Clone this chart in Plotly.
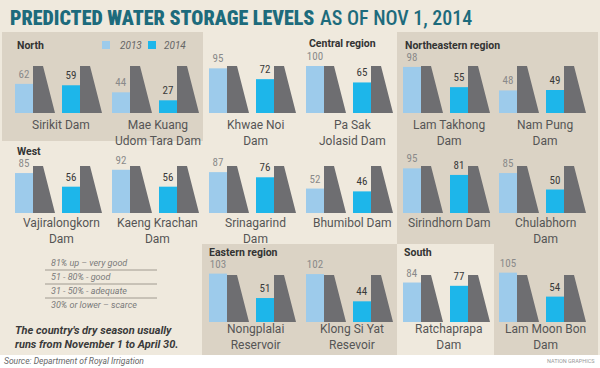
import plotly.graph_objects as go

W, H = 600, 368

# ---------------- data ----------------
row1_dams = ["Sirikit Dam", "Mae Kuang<br>Udom Tara Dam", "Khwae Noi<br>Dam",
             "Pa Sak<br>Jolasid Dam", "Lam Takhong<br>Dam", "Nam Pung<br>Dam"]
row1_2013 = [62, 44, 95, 100, 98, 48]
row1_2014 = [59, 27, 72, 65, 55, 49]

row2_dams = ["Vajiralongkorn<br>Dam", "Kaeng Krachan<br>Dam", "Srinagarind<br>Dam",
             "Bhumibol Dam", "Sirindhorn Dam", "Chulabhorn<br>Dam"]
row2_2013 = [85, 92, 87, 52, 95, 85]
row2_2014 = [56, 56, 76, 46, 81, 50]

row3_dams = ["Nongplalai<br>Reservoir", "Klong Si Yat<br>Resevoir",
             "Ratchaprapa<br>Dam", "Lam Moon Bon<br>Dam"]
row3_2013 = [103, 102, 84, 105]
row3_2014 = [51, 44, 77, 54]

series_names = ["2013", "2014"]
region_labels = ["North", "Central region", "Northeastern region",
                 "West", "Eastern region", "South"]
rating_scale = ["81% up – very good", "51 - 80% - good",
                "31 - 50% - adequate", "30% or lower – scarce"]
note_lines = ["The country's dry season usually", "runs from November 1 to April 30."]
source_text = "Source: Department of Royal Irrigation"
credit_text = "NATION GRAPHICS"
title_main = "PREDICTED WATER STORAGE LEVELS"
title_sub = "AS OF NOV 1, 2014"
full_level = 100  # the dam silhouette represents a full (100%) reservoir

# ---------------- style / layout ----------------
C13 = "#9dcbeb"
C14 = "#1db6ea"
DAM = "#6e6e71"
BG_LIGHT = "#efe9dd"
BG_DARK = "#dbd3c5"
TEAL = "#1d6b7c"
NARROW = "Roboto Condensed, DejaVu Sans Condensed, Liberation Sans Narrow, Roboto, sans-serif"
SANS = "Roboto, Liberation Sans, sans-serif"

COLS = [15, 112, 209, 306, 403, 499]   # left pixel of each dam cell
SCALE = 47                              # pixels per 100 %
rows = [
    dict(dams=row1_dams, v13=row1_2013, v14=row1_2014, cols=COLS, base=113, name_y=124),
    dict(dams=row2_dams, v13=row2_2013, v14=row2_2014, cols=COLS, base=213, name_y=222),
    dict(dams=row3_dams, v13=row3_2013, v14=row3_2014, cols=COLS[2:], base=322, name_y=328),
]
BAR_W = 18
OFF13, OFF14 = 9, 56        # bar centres inside a cell
DAM_OFFS = [18, 65]         # dam left edges inside a cell


def px(x):
    return x / W


def py(y):
    return 1 - y / H


fig = go.Figure()
layout_axes = {}
annotations = []

for i, r in enumerate(rows):
    sfx = "" if i == 0 else str(i + 1)
    xa, ya = "x" + sfx, "y" + sfx
    cols = r["cols"]
    # dams (gray trapezoids) in data units
    dx, dy = [], []
    for c in cols:
        for o in DAM_OFFS:
            dx += [c + o, c + o, c + o + 10, c + o + 22, c + o, None]
            dy += [0, full_level, full_level, 0, 0, None]
    fig.add_trace(go.Scatter(x=dx, y=dy, mode="lines", fill="toself", fillcolor=DAM,
                             line=dict(width=0, color=DAM), hoverinfo="skip",
                             showlegend=False, xaxis=xa, yaxis=ya))
    for vals, off, col, tcol, nm in [(r["v13"], OFF13, C13, "#8a8a8a", series_names[0]),
                                     (r["v14"], OFF14, C14, "#3a3a3a", series_names[1])]:
        fig.add_trace(go.Bar(x=[c + off for c in cols], y=vals, width=BAR_W, name=nm,
                             marker=dict(color=col, line=dict(width=0)),
                             text=[str(v) for v in vals], textposition="outside",
                             textfont=dict(family=NARROW, size=11, color=tcol),
                             constraintext="none", cliponaxis=False,
                             showlegend=False, xaxis=xa, yaxis=ya))
    top = 60
    layout_axes["xaxis" + sfx] = dict(range=[0, W], domain=[0, 1], visible=False,
                                      fixedrange=True, anchor=ya)
    layout_axes["yaxis" + sfx] = dict(range=[0, top / SCALE * 100],
                                      domain=[py(r["base"]), py(r["base"] - top)],
                                      visible=False, fixedrange=True, anchor=xa)
    for c, name in zip(cols, r["dams"]):
        annotations.append(dict(text=name, x=px(c + 46), y=py(r["name_y"] - 8),
                                xref="paper", yref="paper", xanchor="center", yanchor="top",
                                showarrow=False, align="center",
                                font=dict(family=SANS, size=12, color="#555555")))


# panels
def rect(x0, y0, x1, y1, color):
    return dict(type="rect", xref="paper", yref="paper", x0=px(x0), x1=px(x1),
                y0=py(y1), y1=py(y0), fillcolor=color, line=dict(width=0), layer="below")


shapes = [
    rect(2, 32, 203, 141, BG_DARK),      # North
    rect(397, 32, 598, 244, BG_DARK),    # Northeastern
    rect(494, 243, 598, 355, BG_DARK),   # Northeastern (Lam Moon Bon)
    rect(202, 244, 397, 355, BG_DARK),   # Eastern
    rect(0, 355, 600, 368, "#ffffff"),   # footer strip
]
# legend squares
shapes.append(rect(102, 41, 110, 49, C13))
shapes.append(rect(148, 41, 156, 49, C14))
# rating separators
for yy in [270, 284, 298]:
    shapes.append(dict(type="line", xref="paper", yref="paper", x0=px(45), x1=px(157),
                       y0=py(yy), y1=py(yy), line=dict(color="#a09a90", width=1)))


def label(text, x, y, size, color, family=SANS, xanchor="left", yanchor="middle",
          weight="normal"):
    annotations.append(dict(text=text, x=px(x), y=py(y), xref="paper", yref="paper",
                            xanchor=xanchor, yanchor=yanchor, showarrow=False,
                            font=dict(family=family, size=size, color=color,
                                      weight=weight)))


# title
label(title_main, 8, 18, 20, TEAL, family=NARROW, weight=900)
label(title_sub, 318, 18, 20, TEAL, family=NARROW, weight=500)
# legend text
label(f"<i>{series_names[0]}</i>", 118, 45, 10, "#666666")
label(f"<i>{series_names[1]}</i>", 162, 45, 10, "#666666")
# region labels
for txt, (x, y) in zip(region_labels, [(15, 45), (307, 44), (403, 45),
                                        (15, 151), (207, 252), (402, 252)]):
    label(f"<b>{txt}</b>", x, y, 10.5, "#333333")
# rating scale
for txt, y in zip(rating_scale, [263, 277, 291, 305]):
    label(f"<i>{txt}</i>", 49, y, 9, "#7a7a7a")
# note
for txt, y in zip(note_lines, [330, 344]):
    label(f"<b><i>{txt}</i></b>", 13, y, 11, "#3a3a3a")
# footer
label(f"<i>{source_text}</i>", 2, 361, 8.5, "#666666")
label(credit_text, 597, 361, 5.5, "#999999", xanchor="right")

fig.update_layout(width=W, height=H, margin=dict(l=0, r=0, t=0, b=0),
                  paper_bgcolor=BG_LIGHT, plot_bgcolor="rgba(0,0,0,0)",
                  barmode="overlay", showlegend=False,
                  shapes=shapes, annotations=annotations, **layout_axes)

fig.write_html("out.html", config={"displayModeBar": False},
               post_script="document.body.style.margin='0';document.body.style.padding='0';")
